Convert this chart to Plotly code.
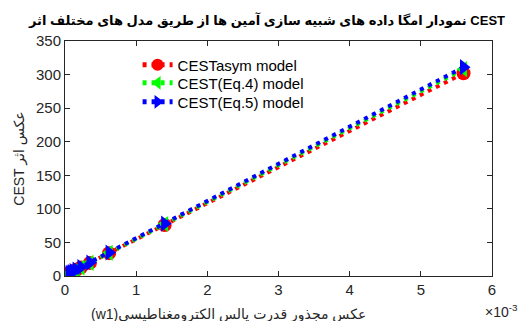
import plotly.graph_objects as go

x_vals = [0.0056, 0.0014, 0.00062, 0.00035, 0.000224, 0.000156, 0.000114, 0.0000875, 0.000069, 0.000056]
y_asym = [302, 76, 34, 19.5, 12.8, 9.2, 7.0, 5.5, 4.6, 3.9]
y_eq4 = [308, 77.5, 34.5, 19.5, 12.5, 8.8, 6.5, 5.0, 4.0, 3.3]
y_eq5 = [311, 78, 35, 20, 13.3, 9.6, 7.3, 5.8, 4.8, 4.1]
names = ["CESTasym model", "CEST(Eq.4) model", "CEST(Eq.5) model"]
x_ticks = [0, 0.001, 0.002, 0.003, 0.004, 0.005, 0.006]
x_ticktext = ["0", "1", "2", "3", "4", "5", "6"]
y_ticks = [0, 50, 100, 150, 200, 250, 300, 350]

LRM = "\u200e"
title_text = "نمودار امگا داده های شبیه سازی آمین ها از طریق مدل های مختلف اثر CEST"
xlabel = LRM + "(w1)" + LRM + "عکس مجذور قدرت پالس الکترومغناطیسی"
ylabel = LRM + "CEST " + "عکس اثر"

fig = go.Figure()
series = [
    (y_asym, "#ff0000", "circle"),
    (y_eq4, "#00ff00", "triangle-left"),
    (y_eq5, "#0000ff", "triangle-right"),
]
legend_ids = ["legend", "legend2", "legend3"]
for (ys, col, sym), nm, lg in zip(series, names, legend_ids):
    fig.add_trace(go.Scatter(
        x=x_vals, y=ys, name=nm, mode="lines+markers", legend=lg,
        line=dict(color=col, width=4, dash="4px,5px"),
        marker=dict(color=col, symbol=sym, size=14, line=dict(width=0)),
    ))

font_fam = "Liberation Sans, Arial, DejaVu Sans, sans-serif"
axis_common = dict(
    showline=True, linecolor="#262626", linewidth=1, mirror="ticks",
    ticks="inside", ticklen=5, tickcolor="#262626", showgrid=False, zeroline=False,
    tickfont=dict(family=font_fam, size=15, color="#262626"),
)
fig.update_xaxes(range=[0, 0.006], tickvals=x_ticks, ticktext=x_ticktext, **axis_common)
fig.update_yaxes(range=[0, 350], tickvals=y_ticks,
                 title=dict(text=ylabel, font=dict(family=font_fam, size=14, color="#262626"), standoff=8),
                 **axis_common)

# title
fig.add_annotation(xref="paper", yref="paper", x=(266 - 65) / 427, y=1 + (41 - 20) / 235,
                   xanchor="center", yanchor="middle", text=title_text, showarrow=False,
                   font=dict(family=font_fam, size=13, color="black", weight="bold"))
# x-axis label
fig.add_annotation(xref="paper", yref="paper", x=(228 - 65) / 427, y=-0.12, xanchor="center", yanchor="top",
                   text=xlabel, showarrow=False,
                   font=dict(family=font_fam, size=14, color="#262626"))
fig.add_annotation(xref="paper", yref="paper", x=1.065, y=-0.1, xanchor="right", yanchor="top",
                   text="×10<sup>-3</sup>", showarrow=False,
                   font=dict(family=font_fam, size=14, color="#262626"))

leg_common = dict(x=0.17, xanchor="left", yanchor="middle", bgcolor="rgba(0,0,0,0)",
                  font=dict(family=font_fam, size=15, color="black"), itemsizing="constant")
fig.update_layout(
    width=532, height=321,
    margin=dict(l=65, r=40, t=41, b=45),
    paper_bgcolor="white", plot_bgcolor="white",
    legend=dict(y=0.898, **leg_common),
    legend2=dict(y=0.821, **leg_common),
    legend3=dict(y=0.740, **leg_common),
    showlegend=True,
)

fig.write_html("out.html")
